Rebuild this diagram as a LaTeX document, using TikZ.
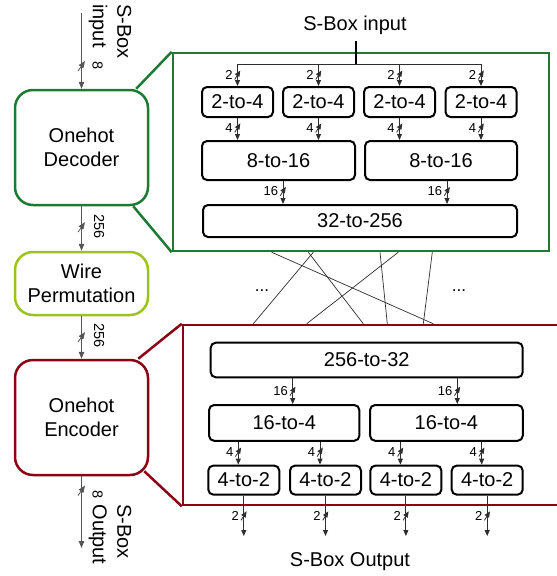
\documentclass[tikz,border=0pt]{standalone}
\usepackage{fontspec}
\setmainfont{Liberation Sans}
\usetikzlibrary{arrows.meta}
\definecolor{gdark}{RGB}{30,122,50}
\definecolor{rdark}{RGB}{140,0,20}
\definecolor{limeg}{RGB}{155,195,30}
\definecolor{conn}{RGB}{45,45,45}
\definecolor{connL}{RGB}{85,85,85}
\tikzset{
  big/.style={font=\fontsize{20}{24.5}\selectfont},
  small/.style={font=\fontsize{13}{14}\selectfont, inner sep=0pt},
  side/.style={font=\fontsize{14.5}{16}\selectfont, inner sep=0pt, rotate=-90},
  blk/.style={draw=black, line width=2pt, rounded corners=5pt, big, inner sep=0pt},
  mainblk/.style={line width=2.5pt, rounded corners=18pt, big, align=center, minimum width=133pt, inner sep=0pt},
  arr/.style={draw=conn, line width=0.9pt, -{Triangle[length=6pt,width=5pt]}},
  arrL/.style={draw=connL, line width=1pt, -{Triangle[length=7pt,width=5.5pt]}},
  wire/.style={draw=conn, line width=0.7pt},
  lblL/.style={small, anchor=east, xshift=-4.5pt},
  slash/.pic={\draw[conn, line width=0.8pt] (-2.8pt,-4.5pt) -- (2.8pt,4.5pt);},
  bigslash/.pic={\draw[connL, line width=0.8pt] (-3.5pt,-5pt) -- (3.5pt,5pt);},
}
\begin{document}
\begin{tikzpicture}[x=1pt,y=-1pt]
\path[use as bounding box, clip] (0,0) rectangle (557,576);

% ---------- left column ----------
\node[mainblk, draw=gdark, minimum height=115pt] (dec) at (81.5,147.5) {Onehot\\Decoder};
\node[mainblk, draw=limeg, minimum height=63pt] (wp) at (81.5,283.5) {Wire\\Permutation};
\node[mainblk, draw=rdark, minimum height=115pt] (enc) at (81.5,417.5) {Onehot\\Encoder};

\coordinate (sin) at (81.5,13);
\coordinate (sout) at (81.5,548);
\node[big, rotate=-90, align=left, inner sep=0pt] (sbinL) at (110,31.5) {S-Box\\input};
\node[big, rotate=-90, align=left, inner sep=0pt] (sboutL) at (110,534.5) {S-Box\\Output};

\draw[arrL] (sin) -- pic[pos=0.70]{bigslash} node[pos=0.70, xshift=16pt, side] (l8a) {8} (dec.north);
\draw[arrL] (dec.south) -- pic[pos=0.47]{bigslash} node[pos=0.45, xshift=17.5pt, side] (l256a) {256} (wp.north);
\draw[arrL] (wp.south) -- pic[pos=0.49]{bigslash} node[pos=0.45, xshift=17.5pt, side] (l256b) {256} (enc.north);
\draw[arrL] (enc.south) -- pic[pos=0.2]{bigslash} node[pos=0.25, xshift=16pt, side] (l8b) {8} (sout);

% ---------- callout boxes ----------
\node[draw=gdark, line width=2.5pt, minimum width=376pt, minimum height=198pt, inner sep=0pt] (gbox) at (361,152) {};
\node[draw=rdark, line width=2.5pt, minimum width=437pt, minimum height=180pt, inner sep=0pt] (rbox) at (401.5,415) {};
\draw[gdark, line width=2.5pt] ([xshift=-13pt]dec.north east) -- (gbox.north west);
\draw[gdark, line width=2.5pt] ([xshift=-16pt]dec.south east) -- (gbox.south west);
\draw[rdark, line width=2.5pt] ([xshift=-11pt]enc.north east) -- (rbox.north west);
\draw[rdark, line width=2.5pt] ([xshift=-5pt,yshift=5pt]enc.south east) -- (rbox.south west);

% ---------- decoder internals ----------
\node[big] (sbi) at (355,25) {S-Box input};
\coordinate (sbtop) at (356,41);
\coordinate (j) at (356,64);
\draw[draw=black, line width=1.6pt] (sbtop) -- (j);

\node[blk, minimum width=71pt, minimum height=30pt] (d1) at (237.5,102) {2-to-4};
\node[blk, minimum width=71pt, minimum height=30pt] (d2) at (318.5,102) {2-to-4};
\node[blk, minimum width=71pt, minimum height=30pt] (d3) at (399.5,102) {2-to-4};
\node[blk, minimum width=71pt, minimum height=30pt] (d4) at (481,102) {2-to-4};
\node[blk, minimum width=153pt, minimum height=39pt] (e1) at (278.5,160.5) {8-to-16};
\node[blk, minimum width=152pt, minimum height=39pt] (e2) at (441,160.5) {8-to-16};
\node[blk, minimum width=314pt, minimum height=32pt] (f) at (360,221) {32-to-256};

\foreach \d in {d1,d2,d3,d4}{
  \draw[arr] (j) -| pic[pos=0.75]{slash} node[pos=0.75, lblL] {2} (\d.north);
  \draw[arr] (\d.south) -- pic[pos=0.45]{slash} node[pos=0.45, lblL] {4} (\d.south |- e1.north);
}
\draw[arr] ([xshift=4.5pt]e1.south) -- pic[pos=0.45]{slash} node[pos=0.45, lblL] {16} ([xshift=4.5pt]e1.south |- f.north);
\draw[arr] ([xshift=6pt]e2.south) -- pic[pos=0.45]{slash} node[pos=0.45, lblL] {16} ([xshift=6pt]e2.south |- f.north);

% ---------- wire permutation ----------
\draw[wire] (271.7,0 |- gbox.south) -- (433.3,0 |- rbox.north);
\draw[wire] (313.3,0 |- gbox.south) -- (253.3,0 |- rbox.north);
\draw[wire] (308.3,0 |- gbox.south) -- (363.3,0 |- rbox.north);
\draw[wire] (398.3,0 |- gbox.south) -- (306.7,0 |- rbox.north);
\draw[wire] (380,0 |- gbox.south) -- (387.3,0 |- rbox.north);
\draw[wire] (432.3,0 |- gbox.south) -- (423.3,0 |- rbox.north);
\node[font=\fontsize{17}{18}\selectfont, inner sep=0pt] (dotsA) at (262,291) {...};
\node[font=\fontsize{17}{18}\selectfont, inner sep=0pt] (dotsB) at (459,291) {...};

% ---------- encoder internals ----------
\node[blk, minimum width=312pt, minimum height=34.6pt] (g) at (366.7,360) {256-to-32};
\node[blk, minimum width=150.3pt, minimum height=35.7pt] (h1) at (284.2,422.9) {16-to-4};
\node[blk, minimum width=152.7pt, minimum height=35.7pt] (h2) at (446.4,422.9) {16-to-4};
\node[blk, minimum width=71pt, minimum height=29pt] (k1) at (243.8,480.1) {4-to-2};
\node[blk, minimum width=71pt, minimum height=29pt] (k2) at (325.5,480.1) {4-to-2};
\node[blk, minimum width=71pt, minimum height=29pt] (k3) at (405.9,480.1) {4-to-2};
\node[blk, minimum width=71pt, minimum height=29pt] (k4) at (487.2,480.1) {4-to-2};
\coordinate (outrow) at (0,536);
\node[big] (sbo) at (350,561.7) {S-Box Output};

\draw[arr] ([xshift=8.5pt]h1.north |- g.south) -- pic[pos=0.5]{slash} node[pos=0.5, lblL] {16} ([xshift=8.5pt]h1.north);
\draw[arr] ([xshift=10.9pt]h2.north |- g.south) -- pic[pos=0.5]{slash} node[pos=0.5, lblL] {16} ([xshift=10.9pt]h2.north);
\draw[arr] ([xshift=-5.5pt]k1.north |- h1.south) -- pic[pos=0.45]{slash} node[pos=0.45, lblL] {4} ([xshift=-5.5pt]k1.north);
\draw[arr] ([xshift=-5.5pt]k2.north |- h1.south) -- pic[pos=0.45]{slash} node[pos=0.45, lblL] {4} ([xshift=-5.5pt]k2.north);
\draw[arr] ([xshift=-5.5pt]k3.north |- h2.south) -- pic[pos=0.45]{slash} node[pos=0.45, lblL] {4} ([xshift=-5.5pt]k3.north);
\draw[arr] ([xshift=-5.5pt]k4.north |- h2.south) -- pic[pos=0.45]{slash} node[pos=0.45, lblL] {4} ([xshift=-5.5pt]k4.north);
\foreach \k in {k1,k2,k3,k4}{
  \draw[arr] (\k.south) -- pic[pos=0.5]{slash} node[pos=0.5, lblL] {2} (\k.south |- outrow);
}
\end{tikzpicture}
\end{document}
